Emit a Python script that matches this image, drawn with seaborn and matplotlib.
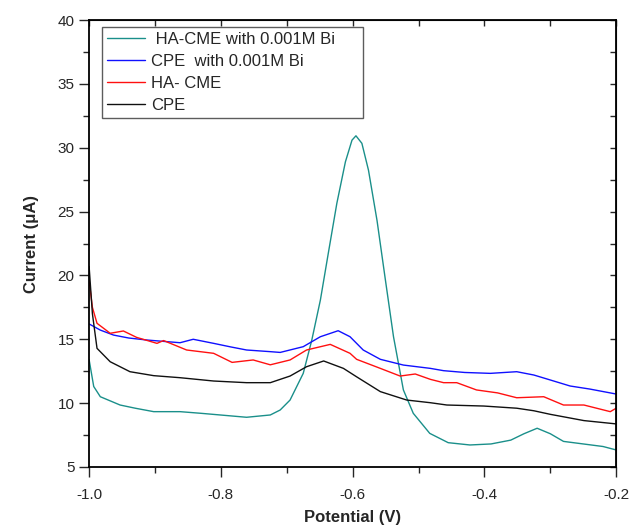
import numpy as np
import pandas as pd
import matplotlib
matplotlib.use('Agg')
import matplotlib.pyplot as plt
import seaborn as sns
from matplotlib.ticker import MultipleLocator

# HA-CME with 0.001M Bi
v_teal = [-1.0, -0.993, -0.983, -0.953, -0.93, -0.902, -0.862, -0.83, -0.801, -0.761, -0.725, -0.71,
          -0.695, -0.675, -0.662, -0.649, -0.637, -0.624, -0.611, -0.601, -0.595, -0.586, -0.576, -0.563,
          -0.551, -0.538, -0.523, -0.508, -0.483, -0.455, -0.422, -0.39, -0.36, -0.34, -0.32, -0.30,
          -0.28, -0.25, -0.22, -0.2]
i_teal = [13.4, 11.3, 10.5, 9.85, 9.6, 9.33, 9.33, 9.2, 9.07, 8.89, 9.07, 9.46,
          10.24, 12.33, 14.94, 18.07, 21.73, 25.65, 28.9, 30.6, 30.94, 30.35, 28.25, 24.3,
          19.9, 15.2, 11.03, 9.2, 7.63, 6.9, 6.72, 6.8, 7.1, 7.6, 8.03, 7.6,
          7.0, 6.8, 6.6, 6.33]

# CPE with 0.001M Bi
v_blue = [-1.0, -0.983, -0.963, -0.94, -0.912, -0.862, -0.842, -0.811, -0.785, -0.761, -0.725, -0.71,
          -0.675, -0.649, -0.622, -0.604, -0.584, -0.558, -0.523, -0.482, -0.462, -0.43, -0.391,
          -0.351, -0.325, -0.30, -0.27, -0.24, -0.2]
i_blue = [16.2, 15.72, 15.33, 15.1, 14.94, 14.73, 15.0, 14.68, 14.4, 14.16, 14.03, 13.97,
          14.42, 15.2, 15.67, 15.2, 14.16, 13.43, 12.98, 12.72, 12.54, 12.4, 12.33,
          12.46, 12.2, 11.81, 11.34, 11.1, 10.71]

# HA- CME
v_red = [-1.0, -0.995, -0.988, -0.968, -0.948, -0.928, -0.897, -0.887, -0.852, -0.811, -0.783, -0.751,
         -0.725, -0.695, -0.67, -0.634, -0.604, -0.594, -0.558, -0.528, -0.505, -0.482, -0.462, -0.442,
         -0.412, -0.38, -0.351, -0.31, -0.28, -0.249, -0.209, -0.2]
i_red = [19.6, 17.5, 16.25, 15.47, 15.65, 15.15, 14.68, 14.9, 14.16, 13.9, 13.19, 13.38,
         13.0, 13.38, 14.16, 14.6, 13.9, 13.43, 12.72, 12.12, 12.28, 11.86, 11.6, 11.6,
         11.03, 10.8, 10.42, 10.5, 9.85, 9.85, 9.33, 9.6]

# CPE
v_black = [-1.0, -0.995, -0.988, -0.968, -0.938, -0.902, -0.862, -0.811, -0.761, -0.725, -0.695, -0.67,
           -0.644, -0.614, -0.594, -0.558, -0.518, -0.482, -0.457, -0.401, -0.351, -0.325, -0.30, -0.249, -0.2]
i_black = [20.7, 17.0, 14.29, 13.24, 12.46, 12.15, 11.99, 11.73, 11.6, 11.6, 12.12, 12.85,
           13.3, 12.72, 12.06, 10.9, 10.24, 10.03, 9.85, 9.77, 9.6, 9.4, 9.12, 8.63, 8.37]

# trailing spaces keep the legend box as wide as in the original
labels = [' HA-CME with 0.001M Bi     ', 'CPE  with 0.001M Bi', 'HA- CME', 'CPE']
colors = ['#1a8f8a', '#1010ff', '#ff1010', '#101010']

df = pd.concat([
    pd.DataFrame({'v': v_teal, 'i': i_teal, 'series': labels[0]}),
    pd.DataFrame({'v': v_blue, 'i': i_blue, 'series': labels[1]}),
    pd.DataFrame({'v': v_red, 'i': i_red, 'series': labels[2]}),
    pd.DataFrame({'v': v_black, 'i': i_black, 'series': labels[3]}),
])

sns.set_style('ticks')
plt.rcParams['font.family'] = ['Liberation Sans', 'DejaVu Sans']

fig = plt.figure(figsize=(6.32, 5.30), dpi=100)
ax = fig.add_axes([0.141, 0.119, 0.834, 0.843])

sns.lineplot(data=df, x='v', y='i', hue='series', hue_order=labels,
             palette=colors, linewidth=1.0, sort=False, ax=ax)

ax.set_xlim(-1.0, -0.2)
ax.set_ylim(5, 40)
ax.xaxis.set_minor_locator(MultipleLocator(0.1))
ax.yaxis.set_major_locator(MultipleLocator(5))
ax.yaxis.set_minor_locator(MultipleLocator(2.5))
ax.set_xticks([-1.0, -0.8, -0.6, -0.4, -0.2])
ax.set_xticklabels(['-1.0', '-0.8', '-0.6', '-0.4', '-0.2'])

ax.tick_params(which='major', direction='out', length=7, width=1, labelsize=11)
ax.tick_params(which='minor', direction='out', length=4, width=1)
ax.tick_params(axis='x', which='major', pad=8)
for side in ['top', 'right', 'bottom', 'left']:
    ax.spines[side].set_visible(True)
    ax.spines[side].set_linewidth(1.3)
    ax.spines[side].set_color('black')

# inward ticks on the top and right frame
top = ax.secondary_xaxis('top')
top.set_xticks([-1.0, -0.8, -0.6, -0.4, -0.2])
top.xaxis.set_minor_locator(MultipleLocator(0.1))
top.tick_params(which='both', direction='in', length=4, width=1, labeltop=False)
right = ax.secondary_yaxis('right')
right.yaxis.set_major_locator(MultipleLocator(5))
right.yaxis.set_minor_locator(MultipleLocator(2.5))
right.tick_params(which='both', direction='in', length=4, width=1, labelright=False)

ax.set_xlabel('Potential (V)', fontsize=12, fontweight='bold', labelpad=6)
ax.set_ylabel('Current (\u03bcA)', fontsize=12, fontweight='bold', labelpad=13)

leg = ax.legend(loc='upper left', bbox_to_anchor=(0.0247, 0.984), fontsize=12,
                frameon=True, fancybox=False, edgecolor='#333333', handlelength=2.3,
                borderpad=0.3, labelspacing=0.42, handletextpad=0.35, borderaxespad=0)
leg.get_frame().set_linewidth(1.0)

fig.savefig('out.png', dpi=100)
